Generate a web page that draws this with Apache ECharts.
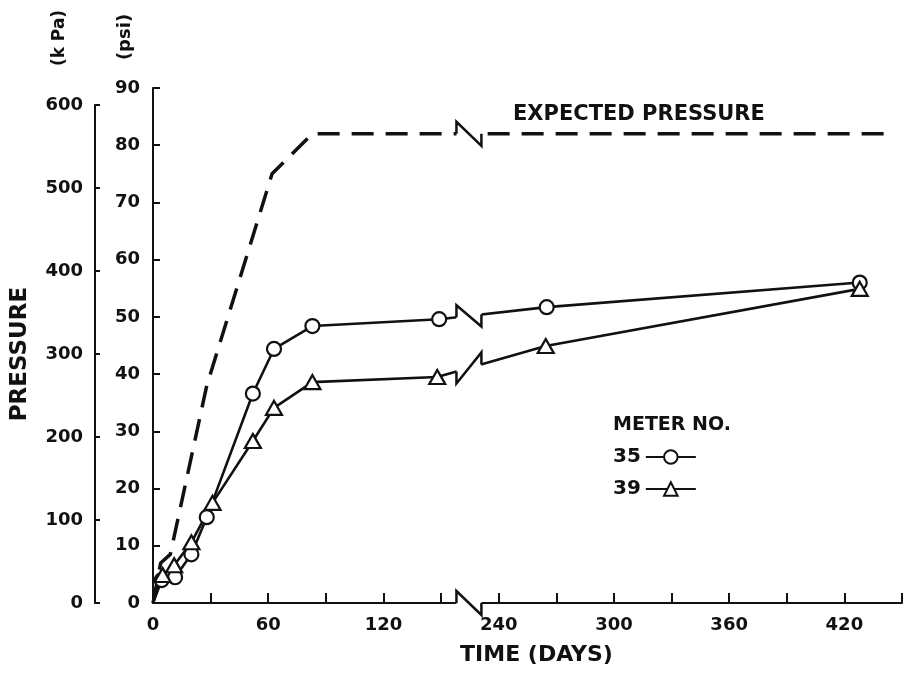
<!DOCTYPE html>
<html>
<head>
<meta charset="utf-8">
<style>
  html, body { margin: 0; padding: 0; background: #fff; }
  #chart { width: 905px; height: 674px; }
</style>
<script src="https://cdn.jsdelivr.net/npm/echarts@6/dist/echarts.min.js"></script>
</head>
<body>
<div id="chart"></div>
<script>
// Piezometer pressure vs. time, with a broken time axis (days 158-231 omitted).

// Meter 35 (circles)
const meter35Days = [0, 4.5, 11.5, 20, 28, 52, 63, 83, 149, 265, 428];
const meter35Psi  = [0, 4.0, 4.5, 8.5, 15.0, 36.6, 44.4, 48.4, 49.6, 51.7, 56.0];

// Meter 39 (triangles)
const meter39Days = [0, 5, 11, 20, 31, 52, 63, 83, 148, 264.5, 428];
const meter39Psi  = [0, 4.9, 6.6, 10.6, 17.5, 28.3, 34.1, 38.6, 39.5, 44.9, 54.9];

// Design (expected) pressure
const expectedDays = [0, 4, 9, 28, 62, 83, 444];
const expectedPsi  = [0, 7.0, 8.5, 38.0, 75.0, 82.0, 82.0];

// Axis ticks
const psiTicks = { min: 0, max: 90, step: 10 };
const kpaTicks = { min: 0, max: 600, step: 100 };
const dayLabelStep = 60;   // labelled ticks
const dayTickStep = 30;    // all ticks

// Time-axis break: days up to BREAK_LEFT plotted as is, later days shifted left by DAY_SHIFT.
const BREAK_LEFT = 158;    // axis position where the break glyph starts
const BREAK_RIGHT = 171;   // axis position where the break glyph ends
const DAY_SHIFT = 60;      // days removed by the break
const AXIS_MAX = 390;      // axis position of the right end (day 450)

const KPA_PER_PSI = 6.894757;

function toAxis(day) { return day <= BREAK_LEFT ? day : day - DAY_SHIFT; }
function toDay(pos) { return pos <= BREAK_LEFT ? pos : pos + DAY_SHIFT; }

// Readings as [axisPos, psi]; the starting point at the origin carries no marker
function pairs(days, vals) {
  return days.map((d, i) => (d === 0 && vals[i] === 0)
    ? { value: [toAxis(d), vals[i]], symbol: 'none' }
    : [toAxis(d), vals[i]]);
}
function xy(item) { return Array.isArray(item) ? item : item.value; }

// Value of a polyline at axis position x (linear between neighbouring points)
function valueAt(items, x) {
  const pts = items.map(xy);
  for (let i = 1; i < pts.length; i++) {
    const a = pts[i - 1], b = pts[i];
    if (x >= a[0] && x <= b[0]) {
      return a[1] + (b[1] - a[1]) * (x - a[0]) / (b[0] - a[0]);
    }
  }
  return pts[pts.length - 1][1];
}

const s35 = pairs(meter35Days, meter35Psi);
const s39 = pairs(meter39Days, meter39Psi);
const sExp = expectedDays.map((d, i) => [toAxis(d), expectedPsi[i]]);

// [xLeft, yLeft, xRight, yRight, direction] for each zig-zag break glyph
const breakMarks = [
  [BREAK_LEFT, 0, BREAK_RIGHT, 0, 1],
  [BREAK_LEFT, valueAt(sExp, BREAK_LEFT), BREAK_RIGHT, valueAt(sExp, BREAK_RIGHT), 1],
  [BREAK_LEFT, valueAt(s35, BREAK_LEFT), BREAK_RIGHT, valueAt(s35, BREAK_RIGHT), 1],
  [BREAK_LEFT, valueAt(s39, BREAK_LEFT), BREAK_RIGHT, valueAt(s39, BREAK_RIGHT), -1]
];

// Layout
const H = 674;
const plotLeft = 153, plotTop = 88, plotBottom = 603;
const plotH = plotBottom - plotTop;
const kpaTop = plotTop + plotH * (1 - (kpaTicks.max / KPA_PER_PSI) / psiTicks.max);

const FONT = 'DejaVu Sans';
const INK = '#111';
const txt = (size) => 'bold ' + size + 'px "DejaVu Sans"';

const chart = echarts.init(document.getElementById('chart'), null, { renderer: 'canvas' });

chart.setOption({
  animation: false,
  backgroundColor: '#fff',
  textStyle: { fontFamily: FONT, color: INK, fontWeight: 'bold' },
  grid: [
    { left: plotLeft, right: 0, top: plotTop, bottom: H - plotBottom },
    { left: 95, width: 10, top: kpaTop, bottom: H - plotBottom }
  ],
  xAxis: [
    {
      type: 'value', gridIndex: 0,
      min: 0, max: AXIS_MAX, interval: dayTickStep,
      axisLine: { lineStyle: { color: INK, width: 2 } },
      axisTick: { inside: true, length: 10, lineStyle: { color: INK, width: 2 } },
      splitLine: { show: false },
      axisLabel: {
        color: INK, fontFamily: FONT, fontWeight: 'bold', fontSize: 18, margin: 13,
        formatter: v => (v % dayLabelStep === 0 ? String(toDay(v)) : '')
      },
      name: 'TIME (DAYS)', nameLocation: 'middle', nameGap: 41,
      nameTextStyle: { color: INK, fontFamily: FONT, fontWeight: 'bold', fontSize: 22, padding: [0, 0, 0, 18] }
    },
    { type: 'value', gridIndex: 1, show: false, min: 0, max: 1 }
  ],
  yAxis: [
    {
      type: 'value', gridIndex: 0,
      min: psiTicks.min, max: psiTicks.max, interval: psiTicks.step,
      axisLine: { show: true, lineStyle: { color: INK, width: 2 } },
      axisTick: { show: true, inside: true, length: 7, lineStyle: { color: INK, width: 2 } },
      splitLine: { show: false },
      axisLabel: { color: INK, fontFamily: FONT, fontWeight: 'bold', fontSize: 18, margin: 13 }
    },
    {
      type: 'value', gridIndex: 1, position: 'left',
      min: kpaTicks.min, max: kpaTicks.max, interval: kpaTicks.step,
      axisLine: { show: true, lineStyle: { color: INK, width: 2 } },
      axisTick: { show: true, inside: true, length: 5, lineStyle: { color: INK, width: 2 } },
      splitLine: { show: false },
      axisLabel: { color: INK, fontFamily: FONT, fontWeight: 'bold', fontSize: 18, margin: 12 },
      name: 'PRESSURE', nameLocation: 'middle', nameGap: 63, nameRotate: 90,
      nameTextStyle: { color: INK, fontFamily: FONT, fontWeight: 'bold', fontSize: 23 }
    }
  ],
  legend: {
    data: ['35', '39'],
    left: 613, top: 447,
    orient: 'vertical', align: 'right',
    itemWidth: 50, itemHeight: 17, itemGap: 12, padding: 0,
    textStyle: { color: INK, fontFamily: FONT, fontWeight: 'bold', fontSize: 20 },
    selectedMode: false
  },
  graphic: [
    { type: 'text', x: 60, y: 38, rotation: Math.PI / 2,
      style: { text: '(k Pa)', fill: INK, font: txt(17), textAlign: 'center', textVerticalAlign: 'middle' } },
    { type: 'text', x: 125, y: 37, rotation: Math.PI / 2,
      style: { text: '(psi)', fill: INK, font: txt(18), textAlign: 'center', textVerticalAlign: 'middle' } },
    { type: 'text', x: 513, y: 115,
      style: { text: 'EXPECTED PRESSURE', fill: INK, font: txt(21), textAlign: 'left', textVerticalAlign: 'middle' } },
    { type: 'text', x: 613, y: 425,
      style: { text: 'METER NO.', fill: INK, font: txt(19), textAlign: 'left', textVerticalAlign: 'middle' } }
  ],
  series: [
    {
      name: 'EXPECTED PRESSURE', type: 'line',
      xAxisIndex: 0, yAxisIndex: 0,
      data: sExp, symbol: 'none', silent: true, z: 2,
      lineStyle: { color: INK, width: 3.5, type: [22, 12] }
    },
    {
      name: '35', type: 'line',
      xAxisIndex: 0, yAxisIndex: 0,
      data: s35, symbol: 'circle', symbolSize: 14, z: 3,
      lineStyle: { color: INK, width: 2.6 },
      itemStyle: { color: '#fff', borderColor: INK, borderWidth: 2.2 }
    },
    {
      name: '39', type: 'line',
      xAxisIndex: 0, yAxisIndex: 0,
      data: s39, symbol: 'triangle', symbolSize: [16, 14], z: 3,
      lineStyle: { color: INK, width: 2.6 },
      itemStyle: { color: '#fff', borderColor: INK, borderWidth: 2.2 }
    },
    {
      name: 'breaks', type: 'custom',
      xAxisIndex: 0, yAxisIndex: 0,
      clip: false, silent: true, z: 10,
      encode: { x: [0, 2], y: [1, 3] },
      data: breakMarks,
      renderItem: function (params, api) {
        const p1 = api.coord([api.value(0), api.value(1)]);
        const p2 = api.coord([api.value(2), api.value(3)]);
        const dir = api.value(4);
        const h = 12;
        const top = Math.min(p1[1], p2[1]) - h - 4;
        const bottom = Math.max(p1[1], p2[1]) + h + 4;
        return {
          type: 'group',
          children: [
            { type: 'rect',
              shape: { x: p1[0], y: top, width: p2[0] - p1[0], height: bottom - top },
              style: { fill: '#fff' } },
            { type: 'polyline',
              shape: { points: [p1, [p1[0], p1[1] - dir * h], [p2[0], p2[1] + dir * h], p2] },
              style: { stroke: INK, lineWidth: 2.5, fill: 'none', lineJoin: 'miter' } }
          ]
        };
      }
    }
  ]
});
</script>
</body>
</html>
